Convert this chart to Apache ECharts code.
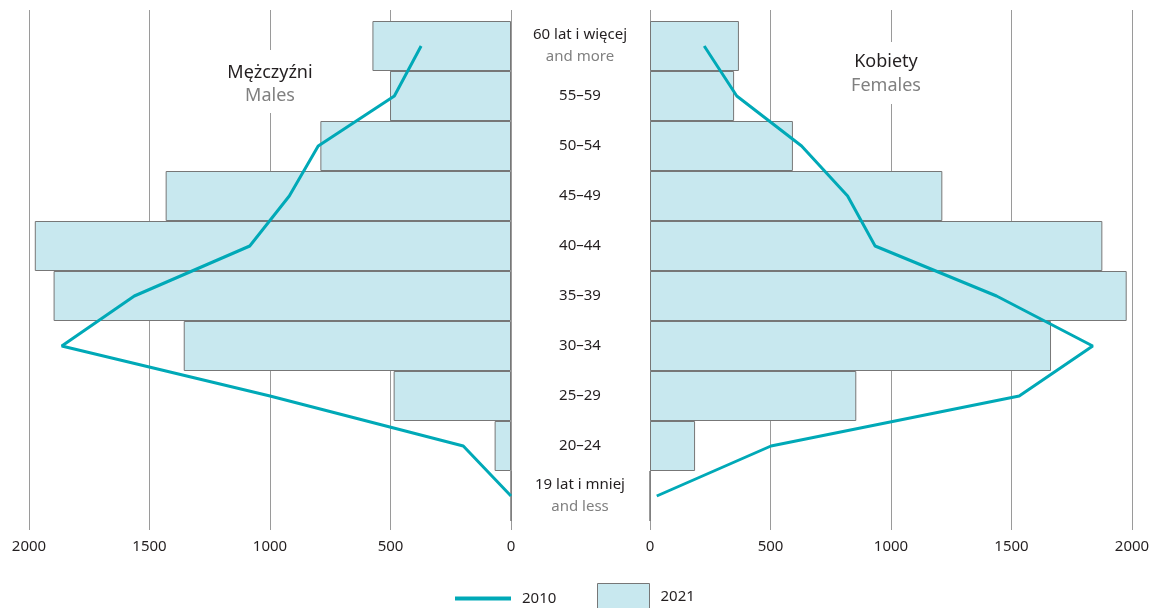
<!DOCTYPE html>
<html>
<head>
<meta charset="utf-8">
<script src="https://cdn.jsdelivr.net/npm/echarts@6/dist/echarts.min.js"></script>
<style>html,body{margin:0;padding:0;background:#fff}#c{width:1156px;height:608px}</style>
</head>
<body>
<div id="c"></div>
<script>
const categories = ['19 lat i mniej','20–24','25–29','30–34','35–39','40–44','45–49','50–54','55–59','60 lat i więcej'];
const subLabels = {'19 lat i mniej':'and less','60 lat i więcej':'and more'};
const male2021 = [0, 68, 487, 1358, 1898, 1976, 1433, 791, 502, 575];
const male2010 = [0, 198, 1000, 1864, 1563, 1084, 920, 800, 484, 373];
const female2021 = [0, 187, 856, 1664, 1978, 1877, 1213, 593, 349, 369];
const female2010 = [28, 502, 1532, 1837, 1438, 934, 820, 629, 360, 225];
const tickValues = [0, 500, 1000, 1500, 2000];

const FONT = 'Noto Sans';
const LINE = '#00a9b7';
const BAR = '#c8e8ef';
const chart = echarts.init(document.getElementById('c'));

function gridAxis(inverse, idx){
  return {type:'value', gridIndex:idx, min:tickValues[0], max:tickValues[tickValues.length-1], interval:500, inverse:inverse,
    axisLine:{show:false}, axisTick:{show:false},
    splitLine:{show:true, lineStyle:{color:'#9a9a9a', width:1}},
    axisLabel:{show:true, margin:9, color:'#231f20', fontSize:15, fontFamily:FONT, formatter:function(v){return String(v);}}};
}
function hiddenX(inverse, idx){
  return {type:'value', gridIndex:idx, min:0, max:2000, inverse:inverse, show:false, splitLine:{show:false}};
}
const barStyle = {color:BAR, borderColor:'#777', borderWidth:1};
const legendText = {fontSize:15, color:'#231f20', fontFamily:FONT, padding:[0,0,0,6]};

chart.setOption({
  animation:false,
  textStyle:{fontFamily:FONT},
  grid:[
    {left:29, width:482, top:10, height:520},
    {left:29, width:482, top:21, height:500},
    {left:650, width:482, top:10, height:520},
    {left:650, width:482, top:21, height:500}
  ],
  xAxis:[gridAxis(true,0), hiddenX(true,1), gridAxis(false,2), hiddenX(false,3)],
  yAxis:[
    {type:'value', gridIndex:0, show:false},
    {type:'category', gridIndex:1, data:categories, position:'right',
      axisLine:{show:false}, axisTick:{show:false}, splitLine:{show:false},
      axisLabel:{show:true, margin:69, align:'center', interval:0,
        formatter:function(v){ return subLabels[v] ? '{a|'+v+'}\n{b|'+subLabels[v]+'}' : '{a|'+v+'}'; },
        rich:{a:{fontSize:15, color:'#231f20', fontFamily:FONT, lineHeight:22, align:'center'},
              b:{fontSize:15, color:'#808080', fontFamily:FONT, lineHeight:22, align:'center'}}}},
    {type:'value', gridIndex:2, show:false},
    {type:'category', gridIndex:3, data:categories, show:false}
  ],
  legend:[
    {left:455, top:591, padding:0, itemWidth:56, itemHeight:4, icon:'rect', textStyle:legendText, data:['2010']},
    {left:597, top:583, padding:0, itemWidth:52, itemHeight:26, icon:'rect', itemStyle:{borderWidth:1, borderColor:'#777'}, textStyle:legendText, data:['2021']}
  ],
  graphic:[
    {type:'rect', z:100, shape:{x:222, y:50, width:96, height:63}, style:{fill:'#fff'}},
    {type:'text', z:101, style:{x:270, y:73, text:'Mężczyźni', fill:'#231f20', font:'18px "Noto Sans"', align:'center', verticalAlign:'middle'}},
    {type:'text', z:101, style:{x:270, y:96, text:'Males', fill:'#808080', font:'18px "Noto Sans"', align:'center', verticalAlign:'middle'}},
    {type:'rect', z:100, shape:{x:842, y:42, width:98, height:62}, style:{fill:'#fff'}},
    {type:'text', z:101, style:{x:886, y:62, text:'Kobiety', fill:'#231f20', font:'18px "Noto Sans"', align:'center', verticalAlign:'middle'}},
    {type:'text', z:101, style:{x:886, y:86, text:'Females', fill:'#808080', font:'18px "Noto Sans"', align:'center', verticalAlign:'middle'}}
  ],
  series:[
    {name:'2021', type:'bar', xAxisIndex:1, yAxisIndex:1, data:male2021, barCategoryGap:0, barWidth:'100%', itemStyle:barStyle},
    {name:'2010', type:'line', xAxisIndex:1, yAxisIndex:1, data:male2010, symbol:'none', lineStyle:{color:LINE, width:3}, itemStyle:{color:LINE}, z:5},
    {name:'2021', type:'bar', xAxisIndex:3, yAxisIndex:3, data:female2021, barCategoryGap:0, barWidth:'100%', itemStyle:barStyle},
    {name:'2010', type:'line', xAxisIndex:3, yAxisIndex:3, data:female2010, symbol:'none', lineStyle:{color:LINE, width:3}, itemStyle:{color:LINE}, z:5}
  ]
});
</script>
</body>
</html>
